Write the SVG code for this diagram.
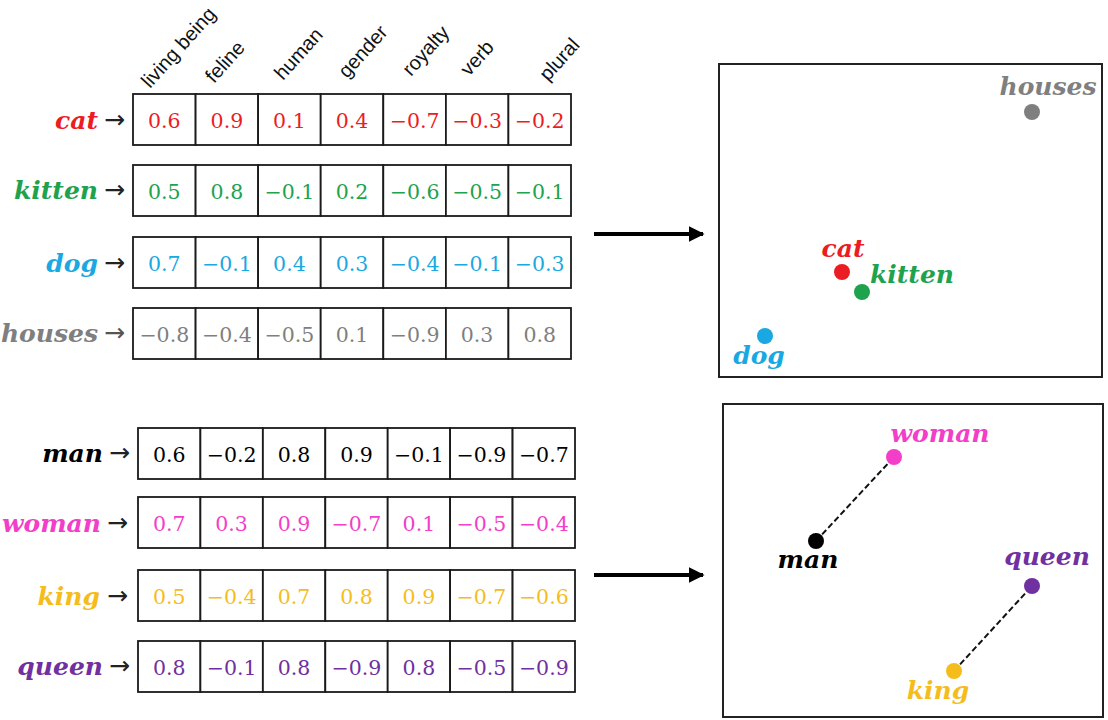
<svg xmlns="http://www.w3.org/2000/svg" width="1108" height="720" viewBox="0 0 1108 720">
<style>
.hdr{font-family:"Liberation Sans",Arial,sans-serif;font-size:20px;fill:#111}
.cell{fill:#fff;stroke:#1a1a1a;stroke-width:1.8}
.num{font-family:"DejaVu Serif","Liberation Serif",serif;font-size:20.5px;text-anchor:middle}
.word{font-family:"DejaVu Serif","Liberation Serif",serif;font-size:25px;font-weight:bold;font-style:italic}
.arr{font-family:"DejaVu Sans",sans-serif;font-size:25px;fill:#222}
.panel{fill:#fff;stroke:#222;stroke-width:2}
.red{fill:#ec1c24}.green{fill:#1ea24e}.blue{fill:#1aa8e2}.gray{fill:#7f7f7f}
.black{fill:#000}.pink{fill:#f23ec8}.yellow{fill:#f5bd1c}.purple{fill:#7030a0}
.dash{stroke:#111;stroke-width:2;stroke-dasharray:6 3;fill:none}
.big{stroke:#000;stroke-width:4;fill:none}
</style>
<defs>
<marker id="ah" viewBox="0 0 10 10" refX="9" refY="5" markerWidth="4" markerHeight="4" orient="auto" markerUnits="strokeWidth">
<path d="M0,0 L10,5 L0,10 z" fill="#000"/>
</marker>
</defs>

<g id="headers">
<text class="hdr" x="150" y="89" transform="rotate(-48 150 89)">living being</text>
<text class="hdr" x="214" y="84" transform="rotate(-48 214 84)">feline</text>
<text class="hdr" x="283" y="81" transform="rotate(-48 283 81)">human</text>
<text class="hdr" x="347" y="79" transform="rotate(-48 347 79)">gender</text>
<text class="hdr" x="411" y="77" transform="rotate(-48 411 77)">royalty</text>
<text class="hdr" x="469" y="77" transform="rotate(-48 469 77)">verb</text>
<text class="hdr" x="548" y="82" transform="rotate(-48 548 82)">plural</text>
</g>

<g id="row-cat">
<text class="word red" x="98" y="129" text-anchor="end">cat</text>
<text class="arr" x="104" y="128">→</text>
<rect class="cell" x="133" y="94" width="62.6" height="51"/><rect class="cell" x="195.6" y="94" width="62.6" height="51"/><rect class="cell" x="258.1" y="94" width="62.6" height="51"/><rect class="cell" x="320.7" y="94" width="62.6" height="51"/><rect class="cell" x="383.3" y="94" width="62.6" height="51"/><rect class="cell" x="445.9" y="94" width="62.6" height="51"/><rect class="cell" x="508.4" y="94" width="62.6" height="51"/>
<g class="red">
<text class="num" x="164.3" y="127.5">0.6</text><text class="num" x="226.9" y="127.5">0.9</text><text class="num" x="289.4" y="127.5">0.1</text><text class="num" x="352" y="127.5">0.4</text><text class="num" x="414.6" y="127.5">−0.7</text><text class="num" x="477.1" y="127.5">−0.3</text><text class="num" x="539.7" y="127.5">−0.2</text>
</g>
</g>

<g id="row-kitten">
<text class="word green" x="98" y="199" text-anchor="end">kitten</text>
<text class="arr" x="104" y="198">→</text>
<rect class="cell" x="133" y="165" width="62.6" height="51"/><rect class="cell" x="195.6" y="165" width="62.6" height="51"/><rect class="cell" x="258.1" y="165" width="62.6" height="51"/><rect class="cell" x="320.7" y="165" width="62.6" height="51"/><rect class="cell" x="383.3" y="165" width="62.6" height="51"/><rect class="cell" x="445.9" y="165" width="62.6" height="51"/><rect class="cell" x="508.4" y="165" width="62.6" height="51"/>
<g class="green">
<text class="num" x="164.3" y="198.5">0.5</text><text class="num" x="226.9" y="198.5">0.8</text><text class="num" x="289.4" y="198.5">−0.1</text><text class="num" x="352" y="198.5">0.2</text><text class="num" x="414.6" y="198.5">−0.6</text><text class="num" x="477.1" y="198.5">−0.5</text><text class="num" x="539.7" y="198.5">−0.1</text>
</g>
</g>

<g id="row-dog">
<text class="word blue" x="98" y="272" text-anchor="end">dog</text>
<text class="arr" x="104" y="271">→</text>
<rect class="cell" x="133" y="237" width="62.6" height="51"/><rect class="cell" x="195.6" y="237" width="62.6" height="51"/><rect class="cell" x="258.1" y="237" width="62.6" height="51"/><rect class="cell" x="320.7" y="237" width="62.6" height="51"/><rect class="cell" x="383.3" y="237" width="62.6" height="51"/><rect class="cell" x="445.9" y="237" width="62.6" height="51"/><rect class="cell" x="508.4" y="237" width="62.6" height="51"/>
<g class="blue">
<text class="num" x="164.3" y="270.5">0.7</text><text class="num" x="226.9" y="270.5">−0.1</text><text class="num" x="289.4" y="270.5">0.4</text><text class="num" x="352" y="270.5">0.3</text><text class="num" x="414.6" y="270.5">−0.4</text><text class="num" x="477.1" y="270.5">−0.1</text><text class="num" x="539.7" y="270.5">−0.3</text>
</g>
</g>

<g id="row-houses">
<text class="word gray" x="98" y="342" text-anchor="end">houses</text>
<text class="arr" x="104" y="341" style="fill:#555">→</text>
<rect class="cell" x="133" y="308" width="62.6" height="51"/><rect class="cell" x="195.6" y="308" width="62.6" height="51"/><rect class="cell" x="258.1" y="308" width="62.6" height="51"/><rect class="cell" x="320.7" y="308" width="62.6" height="51"/><rect class="cell" x="383.3" y="308" width="62.6" height="51"/><rect class="cell" x="445.9" y="308" width="62.6" height="51"/><rect class="cell" x="508.4" y="308" width="62.6" height="51"/>
<g class="gray">
<text class="num" x="164.3" y="341.5">−0.8</text><text class="num" x="226.9" y="341.5">−0.4</text><text class="num" x="289.4" y="341.5">−0.5</text><text class="num" x="352" y="341.5">0.1</text><text class="num" x="414.6" y="341.5">−0.9</text><text class="num" x="477.1" y="341.5">0.3</text><text class="num" x="539.7" y="341.5">0.8</text>
</g>
</g>

<g id="row-man">
<text class="word black" x="103" y="462" text-anchor="end">man</text>
<text class="arr" x="109" y="461">→</text>
<rect class="cell" x="138" y="428" width="62.4" height="51"/><rect class="cell" x="200.4" y="428" width="62.4" height="51"/><rect class="cell" x="262.9" y="428" width="62.4" height="51"/><rect class="cell" x="325.3" y="428" width="62.4" height="51"/><rect class="cell" x="387.7" y="428" width="62.4" height="51"/><rect class="cell" x="450.1" y="428" width="62.4" height="51"/><rect class="cell" x="512.6" y="428" width="62.4" height="51"/>
<g class="black">
<text class="num" x="169.2" y="461.5">0.6</text><text class="num" x="231.6" y="461.5">−0.2</text><text class="num" x="294.1" y="461.5">0.8</text><text class="num" x="356.5" y="461.5">0.9</text><text class="num" x="418.9" y="461.5">−0.1</text><text class="num" x="481.4" y="461.5">−0.9</text><text class="num" x="543.8" y="461.5">−0.7</text>
</g>
</g>

<g id="row-woman">
<text class="word pink" x="101" y="532" text-anchor="end">woman</text>
<text class="arr" x="107" y="531">→</text>
<rect class="cell" x="138" y="497" width="62.4" height="51"/><rect class="cell" x="200.4" y="497" width="62.4" height="51"/><rect class="cell" x="262.9" y="497" width="62.4" height="51"/><rect class="cell" x="325.3" y="497" width="62.4" height="51"/><rect class="cell" x="387.7" y="497" width="62.4" height="51"/><rect class="cell" x="450.1" y="497" width="62.4" height="51"/><rect class="cell" x="512.6" y="497" width="62.4" height="51"/>
<g class="pink">
<text class="num" x="169.2" y="530.5">0.7</text><text class="num" x="231.6" y="530.5">0.3</text><text class="num" x="294.1" y="530.5">0.9</text><text class="num" x="356.5" y="530.5">−0.7</text><text class="num" x="418.9" y="530.5">0.1</text><text class="num" x="481.4" y="530.5">−0.5</text><text class="num" x="543.8" y="530.5">−0.4</text>
</g>
</g>

<g id="row-king">
<text class="word yellow" x="100" y="605" text-anchor="end">king</text>
<text class="arr" x="107" y="604">→</text>
<rect class="cell" x="138" y="570" width="62.4" height="51"/><rect class="cell" x="200.4" y="570" width="62.4" height="51"/><rect class="cell" x="262.9" y="570" width="62.4" height="51"/><rect class="cell" x="325.3" y="570" width="62.4" height="51"/><rect class="cell" x="387.7" y="570" width="62.4" height="51"/><rect class="cell" x="450.1" y="570" width="62.4" height="51"/><rect class="cell" x="512.6" y="570" width="62.4" height="51"/>
<g class="yellow">
<text class="num" x="169.2" y="603.5">0.5</text><text class="num" x="231.6" y="603.5">−0.4</text><text class="num" x="294.1" y="603.5">0.7</text><text class="num" x="356.5" y="603.5">0.8</text><text class="num" x="418.9" y="603.5">0.9</text><text class="num" x="481.4" y="603.5">−0.7</text><text class="num" x="543.8" y="603.5">−0.6</text>
</g>
</g>

<g id="row-queen">
<text class="word purple" x="103" y="675" text-anchor="end">queen</text>
<text class="arr" x="109" y="674">→</text>
<rect class="cell" x="138" y="641" width="62.4" height="51"/><rect class="cell" x="200.4" y="641" width="62.4" height="51"/><rect class="cell" x="262.9" y="641" width="62.4" height="51"/><rect class="cell" x="325.3" y="641" width="62.4" height="51"/><rect class="cell" x="387.7" y="641" width="62.4" height="51"/><rect class="cell" x="450.1" y="641" width="62.4" height="51"/><rect class="cell" x="512.6" y="641" width="62.4" height="51"/>
<g class="purple">
<text class="num" x="169.2" y="674.5">0.8</text><text class="num" x="231.6" y="674.5">−0.1</text><text class="num" x="294.1" y="674.5">0.8</text><text class="num" x="356.5" y="674.5">−0.9</text><text class="num" x="418.9" y="674.5">0.8</text><text class="num" x="481.4" y="674.5">−0.5</text><text class="num" x="543.8" y="674.5">−0.9</text>
</g>
</g>

<g id="panel-top">
<rect class="panel" x="719" y="64" width="383" height="313"/>
</g>
<g id="pt-houses"><circle class="gray" cx="1032" cy="112" r="8"/><text class="word gray" x="1048" y="95" text-anchor="middle">houses</text></g>
<g id="pt-cat"><circle class="red" cx="842" cy="272" r="8"/><text class="word red" x="843" y="257" text-anchor="middle">cat</text></g>
<g id="pt-kitten"><circle class="green" cx="862" cy="292" r="8"/><text class="word green" x="870" y="283">kitten</text></g>
<g id="pt-dog"><circle class="blue" cx="765" cy="336" r="8"/><text class="word blue" x="759" y="364" text-anchor="middle">dog</text></g>

<g id="panel-bottom">
<rect class="panel" x="723" y="404" width="380" height="313"/>
</g>

<g id="connectors">
<line class="big" x1="594" y1="234" x2="703" y2="234" marker-end="url(#ah)"/>
<line class="big" x1="594" y1="575" x2="703" y2="575" marker-end="url(#ah)"/>
<line class="dash" x1="816" y1="541" x2="894" y2="457"/>
<line class="dash" x1="954" y1="671" x2="1032" y2="586"/>
</g>

<g id="pt-woman"><circle class="pink" cx="894" cy="457" r="8"/><text class="word pink" x="940" y="442" text-anchor="middle">woman</text></g>
<g id="pt-man"><circle class="black" cx="816" cy="541" r="8"/><text class="word black" x="808" y="568" text-anchor="middle">man</text></g>
<g id="pt-queen"><circle class="purple" cx="1032" cy="586" r="8"/><text class="word purple" x="1047" y="565" text-anchor="middle">queen</text></g>
<g id="pt-king"><circle class="yellow" cx="954" cy="671" r="8"/><text class="word yellow" x="938" y="699" text-anchor="middle">king</text></g>
</svg>
